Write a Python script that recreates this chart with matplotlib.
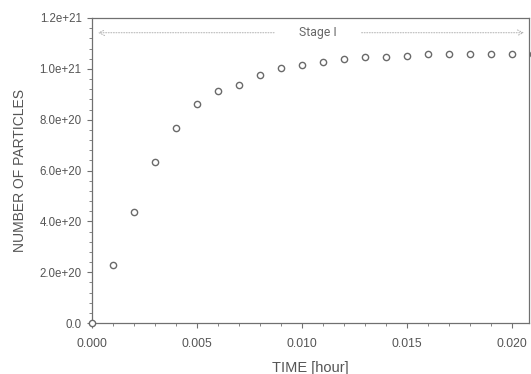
import matplotlib
matplotlib.use("Agg")
import matplotlib.pyplot as plt
from matplotlib.ticker import MultipleLocator

time_hour = [0.000, 0.001, 0.002, 0.003, 0.004, 0.005, 0.006, 0.007, 0.008, 0.009,
             0.010, 0.011, 0.012, 0.013, 0.014, 0.015, 0.016, 0.017, 0.018, 0.019,
             0.020, 0.021]
particles = [0.0, 2.28e20, 4.37e20, 6.34e20, 7.68e20, 8.62e20, 9.13e20, 9.37e20,
             9.76e20, 1.004e21, 1.016e21, 1.026e21, 1.038e21, 1.045e21, 1.046e21,
             1.052e21, 1.057e21, 1.057e21, 1.057e21, 1.058e21, 1.058e21, 1.058e21]
x_ticks = [0.000, 0.005, 0.010, 0.015, 0.020]
x_tick_labels = ["0.000", "0.005", "0.010", "0.015", "0.020"]
y_ticks = [0.0, 2.0e20, 4.0e20, 6.0e20, 8.0e20, 1.0e21, 1.2e21]
y_tick_labels = ["0.0", "2.0e+20", "4.0e+20", "6.0e+20", "8.0e+20", "1.0e+21", "1.2e+21"]
stage_label = "Stage I"
stage_level = 1.142e21
stage_span = (0.00015, 0.0207)
stage_text_x = 0.01075

plt.rcParams['font.family'] = ['Liberation Sans', 'DejaVu Sans']
txt = '#555555'
axc = '#707070'

fig = plt.figure(figsize=(5.31, 3.74), dpi=100)
ax = fig.add_axes([92/531, 1 - 323/374, (529-92)/531, (323-18)/374])

ax.plot(time_hour, particles, linestyle='none', marker='o', markersize=4.5,
        markerfacecolor='white', markeredgecolor='#6a6a6a', markeredgewidth=1.0,
        clip_on=False, zorder=3)

ax.set_xlim(0, 0.0208)
ax.set_ylim(0, 1.2e21)
ax.set_xticks(x_ticks)
ax.set_xticklabels(x_tick_labels)
ax.set_yticks(y_ticks)
ax.set_yticklabels(y_tick_labels)
ax.xaxis.set_minor_locator(MultipleLocator(0.001))
ax.yaxis.set_minor_locator(MultipleLocator(4e19))
ax.tick_params(axis='both', which='major', direction='out', length=3.5, width=0.8,
               color=axc, labelcolor=txt)
ax.tick_params(axis='x', which='major', labelsize=8.8, pad=7)
ax.tick_params(axis='y', which='major', labelsize=8.3, pad=4)
ax.tick_params(axis='both', which='minor', direction='out', length=2, width=0.6, color=axc)
for s in ax.spines.values():
    s.set_color(axc)
    s.set_linewidth(0.9)

ax.set_xlabel("TIME [hour]", fontsize=10.5, color=txt, labelpad=8)
ax.set_ylabel("NUMBER OF PARTICLES", fontsize=10, color=txt, labelpad=9)

# Stage I annotation
ax.annotate('', xy=(stage_span[0], stage_level), xytext=(stage_text_x - 0.00195, stage_level),
            arrowprops=dict(arrowstyle='->', color='#b0b0b0', lw=0.7, linestyle=':'))
ax.annotate('', xy=(stage_span[1], stage_level), xytext=(stage_text_x + 0.00195, stage_level),
            arrowprops=dict(arrowstyle='->', color='#b0b0b0', lw=0.7, linestyle=':'))
ax.text(stage_text_x, stage_level, stage_label, ha='center', va='center',
        fontsize=8.8, color='#666666', family=['Roboto', 'DejaVu Sans'])

fig.savefig("out.png", dpi=100)
